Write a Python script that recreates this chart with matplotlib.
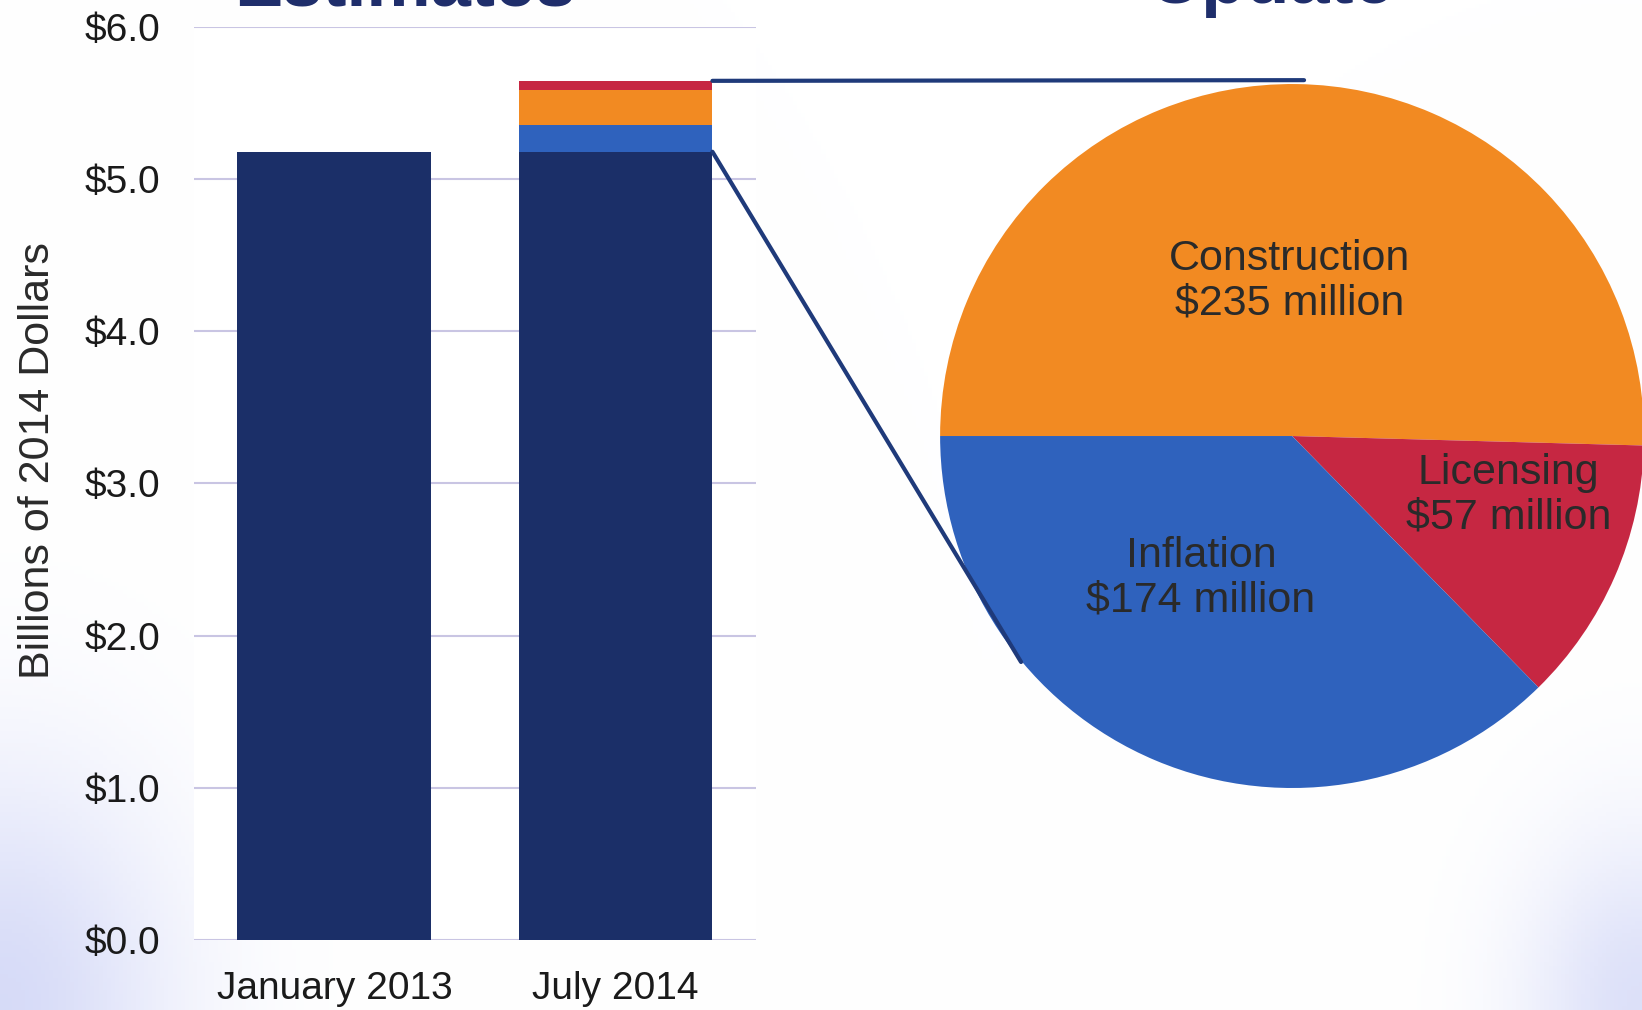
import matplotlib.pyplot as plt
import numpy as np
from matplotlib.patches import ConnectionPatch

plt.rcParams['font.family'] = ['Liberation Sans', 'DejaVu Sans']

# data
bar_labels = ['January 2013', 'July 2014']
base_cost = [5.18, 5.18]          # billions of 2014 dollars
parts = ['Inflation', 'Construction', 'Licensing']
part_values = [174, 235, 57]      # millions, stacked on July 2014 bar
pie_order = ['Construction', 'Licensing', 'Inflation']
yticks = [0, 1, 2, 3, 4, 5, 6]

navy = '#1b2f68'
part_colors = {'Inflation': '#2f62bd', 'Construction': '#f28a22', 'Licensing': '#c62742'}
text_col = '#2a2a2a'

fig = plt.figure(figsize=(16.42, 10.10), dpi=100)

# faint bluish smudges in the bottom corners (photo of a slide)
bg = fig.add_axes([0, 0, 1, 1], zorder=-10)
xx, yy = np.meshgrid(np.linspace(0, 1642, 400), np.linspace(0, 1010, 250))
d1 = np.hypot((xx - 0) / 220, (yy - 1010) / 300)
d2 = np.hypot((xx - 1642) / 150, (yy - 1010) / 220)
tint = np.clip(np.exp(-d1 ** 2 * 1.6) * 0.35 + np.exp(-d2 ** 2 * 1.6) * 0.30, 0, 1)
img = np.ones((250, 400, 3))
img[..., 0] -= tint * 0.45
img[..., 1] -= tint * 0.40
img[..., 2] -= tint * 0.08
bg.imshow(img, extent=[0, 1, 0, 1], aspect='auto', origin='upper')
bg.axis('off')

# bar chart
ax = fig.add_axes([0.1181, 0.0693, 0.3423, 0.904])
x = np.arange(len(bar_labels))
width = 0.69
ax.bar(x, base_cost, width, color=navy, zorder=2)
bottom = base_cost[1]
for name, v in zip(parts, part_values):
    ax.bar(x[1], v / 1000, width, bottom=bottom, color=part_colors[name], zorder=2)
    bottom += v / 1000
total = bottom

ax.set_xlim(-0.5, 1.5)
ax.set_ylim(0, 6)
ax.set_yticks(yticks)
ax.set_yticklabels(['$%.1f' % t for t in yticks], fontsize=28, color='#1a1a1a')
ax.set_xticks(x)
ax.set_xticklabels(bar_labels, fontsize=28, color='#1a1a1a')
ax.tick_params(axis='y', length=0, pad=24)
ax.tick_params(axis='x', length=0, pad=22)
ax.grid(axis='y', color='#c9c5e3', linewidth=1.5, zorder=0)
for s in ax.spines.values():
    s.set_visible(False)
fig.text(38 / 1642, 1 - 461 / 1010, 'Billions of 2014 Dollars', rotation=90,
         ha='center', va='center', fontsize=31, color=text_col)

# pie chart
pax = fig.add_axes([0.5725, 0.2198, 0.4288, 0.697])
pie_vals = [part_values[parts.index(n)] for n in pie_order]
pax.pie(pie_vals, colors=[part_colors[n] for n in pie_order], startangle=180,
        counterclock=False, radius=1, wedgeprops=dict(linewidth=0))
pax.set_xlim(-1, 1)
pax.set_ylim(-1, 1)
pax.set_aspect('equal')

label_pos = {'Construction': (-0.006, 0.44), 'Licensing': (0.614, -0.168),
             'Inflation': (-0.259, -0.403)}
for n in pie_order:
    v = part_values[parts.index(n)]
    px, py = label_pos[n]
    pax.text(px, py, '%s\n$%d million' % (n, v), ha='center', va='center',
             fontsize=31, color=text_col, linespacing=1.15)

# connector lines from bar to pie
for yb, xy_pie in [(total, (0.034, 1.011)), (base_cost[1], (-0.77, -0.642))]:
    con = ConnectionPatch(xyA=(x[1] + width / 2, yb), coordsA=ax.transData,
                          xyB=xy_pie, coordsB=pax.transData,
                          color='#1f3a7a', linewidth=3)
    fig.add_artist(con)

# titles cut off at the top edge
fig.text(405 / 1642, 1 - 5 / 1010, 'Estimates', ha='center', va='baseline',
         fontsize=52, fontweight='bold', color='#1f2e6b')
fig.text(1272 / 1642, 1 - 3 / 1010, 'Update', ha='center', va='baseline',
         fontsize=52, fontweight='bold', color='#1f2e6b')

fig.savefig('out.png', dpi=100)
